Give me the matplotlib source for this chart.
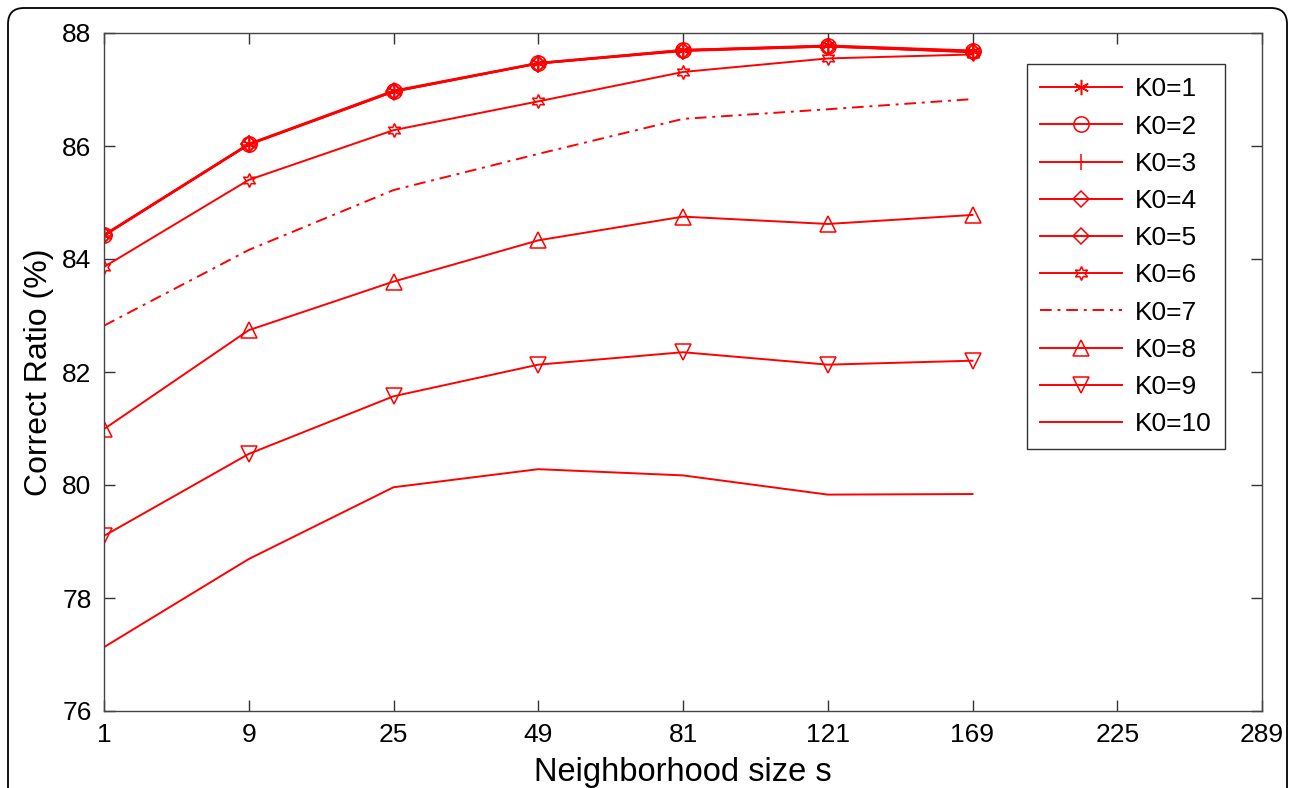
import matplotlib

matplotlib.use("Agg")
import matplotlib.pyplot as plt
from matplotlib.patches import FancyBboxPatch
from matplotlib.transforms import IdentityTransform

plt.rcParams["font.family"] = ["Liberation Sans", "DejaVu Sans"]

# neighborhood sizes (categorical, evenly spaced on the axis)
x_labels = ["1", "9", "25", "49", "81", "121", "169", "225", "289"]

# correct ratio (%) per K0, measured at s = 1 .. 169
k0_1 = [84.42, 86.03, 86.97, 87.47, 87.70, 87.78, 87.69]
k0_2 = [84.43, 86.04, 86.98, 87.47, 87.70, 87.77, 87.68]
k0_3 = [84.41, 86.02, 86.96, 87.46, 87.69, 87.77, 87.66]
k0_4 = [84.42, 86.03, 86.97, 87.46, 87.69, 87.76, 87.67]
k0_5 = [84.42, 86.03, 86.96, 87.46, 87.68, 87.76, 87.66]
k0_6 = [83.86, 85.40, 86.28, 86.79, 87.31, 87.55, 87.62]
k0_7 = [82.82, 84.16, 85.22, 85.86, 86.48, 86.65, 86.83]
k0_8 = [80.99, 82.74, 83.60, 84.33, 84.75, 84.62, 84.78]
k0_9 = [79.10, 80.55, 81.57, 82.13, 82.35, 82.13, 82.20]
k0_10 = [77.13, 78.69, 79.96, 80.28, 80.17, 79.83, 79.84]

series = [
    ("K0=1", k0_1, "-", (6, 2, 0), 11),
    ("K0=2", k0_2, "-", "o", 11),
    ("K0=3", k0_3, "-", "+", 12),
    ("K0=4", k0_4, "-", "D", 8),
    ("K0=5", k0_5, "-", "D", 8),
    ("K0=6", k0_6, "-", (6, 1, 0), 10),
    ("K0=7", k0_7, (0, (6, 3, 1.5, 3)), None, 0),
    ("K0=8", k0_8, "-", "^", 11),
    ("K0=9", k0_9, "-", "v", 11),
    ("K0=10", k0_10, "-", None, 0),
]

fig = plt.figure(figsize=(12.92, 7.88), dpi=100)
ax = fig.add_axes([104 / 1292, 1 - 711 / 788, 1158 / 1292, 678 / 788])

for name, ys, ls, mk, ms in series:
    ax.plot(range(len(ys)), ys, color="red", linestyle=ls, linewidth=1.4,
            marker=mk, markersize=ms, markerfacecolor="none",
            markeredgecolor="red", markeredgewidth=1.1, label=name)

ax.set_xlim(0, len(x_labels) - 1)
ax.set_ylim(76, 88)
ax.set_xticks(range(len(x_labels)))
ax.set_xticklabels(x_labels)
ax.set_yticks(range(76, 89, 2))

ax.tick_params(direction="in", length=8, width=1, top=True, right=True,
               labelsize=19, pad=9, colors="#333333", labelcolor="black")
for sp in ax.spines.values():
    sp.set_color("#444444")
    sp.set_linewidth(1.0)

ax.set_xlabel("Neighborhood size s", fontsize=23.5, labelpad=7)
ax.set_ylabel("Correct Ratio (%)", fontsize=23, labelpad=6)

leg = ax.legend(loc="upper right", bbox_to_anchor=(0.968, 0.954),
                borderaxespad=0, fontsize=19, handlelength=3.1,
                labelspacing=0.5, fancybox=False, framealpha=1,
                edgecolor="#333333", borderpad=0.5, handletextpad=0.5)
leg.get_frame().set_linewidth(1.0)

# rounded outer frame around the whole picture
frame = FancyBboxPatch((8, -40), 1279, 820,
                       boxstyle="round,pad=0,rounding_size=16",
                       transform=IdentityTransform(), fill=False,
                       edgecolor="black", linewidth=1.3)
fig.add_artist(frame)

fig.savefig("out.png", dpi=100)
